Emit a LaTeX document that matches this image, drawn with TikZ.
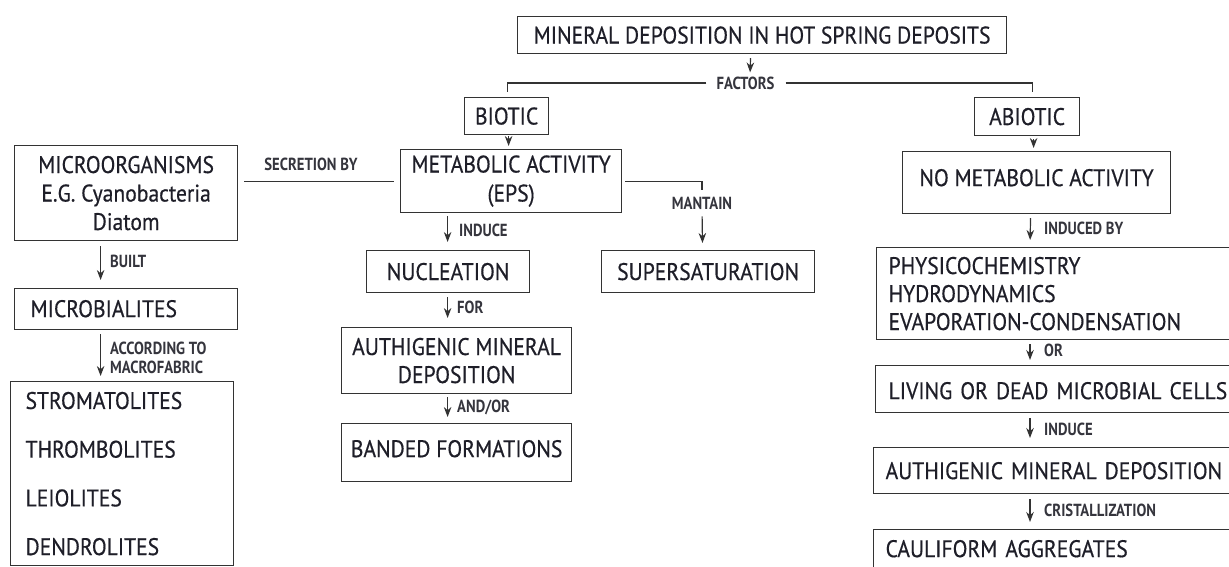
\documentclass[tikz,border=0pt]{standalone}
\usepackage{fontspec}
\setmainfont{PT Sans}
\newfontfamily\boxfont[FakeStretch=0.9,FakeBold=0.5]{PT Sans}
\newfontfamily\lblfont[FakeStretch=0.84]{PT Sans}
\usetikzlibrary{arrows.meta,positioning,calc}
\definecolor{ink}{HTML}{1E1E28}
\definecolor{edge}{HTML}{333333}
\tikzset{box/.style={draw=edge,line width=1.2pt,inner sep=0pt,anchor=north west,
  font=\boxfont\fontsize{24}{28.5}\selectfont,text=ink},
  lbl/.style={font=\lblfont\bfseries\fontsize{17.5}{20}\selectfont,text=ink!90,inner sep=0pt},
  wire/.style={line width=1.2pt,draw=edge},
  arr/.style={-{Stealth[length=10pt,width=7.5pt]},line width=1.2pt,draw=edge}}

\begin{document}
\begin{tikzpicture}[x=1pt,y=-1pt]
\useasboundingbox (0,0) rectangle (1229,566);
\clip (0,0) rectangle (1229,566);
% top of the tree
\node[box,minimum width=489pt,minimum height=37pt] (title) at (517,16) {MINERAL DEPOSITION IN HOT SPRING DEPOSITS};
\node[lbl] (factors) at (745.5,83) {FACTORS};
\node[box,minimum width=84pt,minimum height=37pt] (biotic) at (464,97) {BIOTIC};
\node[box,minimum width=105pt,minimum height=38pt] (abiotic) at (974,97) {ABIOTIC};
\draw[arr,shorten <=4pt,shorten >=4pt] ([xshift=-11.5pt]title.south) -- ([xshift=4.5pt]factors.north);
\draw[wire] ([xshift=-10pt]factors.west) -| ([xshift=1pt,yshift=5pt]biotic.north);
\draw[wire] ([xshift=11pt]factors.east) -| ([xshift=5.5pt,yshift=5pt]abiotic.north);
% biotic branch
\node[box,minimum width=221pt,minimum height=63pt,align=center,font=\boxfont\fontsize{24}{29}\selectfont] (metab) at (400,149) {METABOLIC ACTIVITY\\(EPS)};
\node[box,minimum width=223pt,minimum height=95pt,align=center] (micro) at (14,145) {MICROORGANISMS\\E.G. Cyanobacteria\\Diatom};
\node[box,text width=191pt,inner xsep=16pt,align=left,text height=28.5pt,text depth=12.5pt] (microb) at (14,288) {MICROBIALITES};
\node[box,text width=193pt,inner xsep=15pt,minimum height=184pt,align=left,font=\boxfont\fontsize{24}{48.7}\selectfont] (strom) at (10,381) {STROMATOLITES\\THROMBOLITES\\LEIOLITES\\DENDROLITES};
\node[box,minimum width=163pt,minimum height=42pt] (nucl) at (366,250) {NUCLEATION};
\node[box,minimum width=213pt,minimum height=42pt] (supsat) at (601,250) {SUPERSATURATION};
\node[box,minimum width=230pt,minimum height=66pt,align=center,font=\boxfont\fontsize{24}{28}\selectfont] (authig) at (341,327) {AUTHIGENIC MINERAL\\DEPOSITION};
\node[box,minimum width=230pt,text height=33.5pt,text depth=24.5pt] (banded) at (341,423) {BANDED FORMATIONS};
\node[lbl] (secr) at (311,164) {SECRETION BY};
\node[lbl] (mantain) at (702,203) {MANTAIN};
\node[lbl,anchor=west] (built) at (110,261) {BUILT};
\node[lbl,anchor=west,align=left,font=\lblfont\bfseries\fontsize{17.5}{19}\selectfont] (accord) at (110,357.5) {ACCORDING TO\\MACROFABRIC};
\node[lbl,anchor=west] (induce) at (459,230) {INDUCE};
\node[lbl,anchor=west] (for) at (457,307) {FOR};
\node[lbl,anchor=west] (andor) at (457,407) {AND/OR};
\draw[arr,shorten <=1pt,shorten >=3pt] ([xshift=2pt]biotic.south) -- ([xshift=-2.5pt]metab.north);
\draw[wire,shorten <=6pt,shorten >=6pt] (micro.east |- metab.west) -- (metab.west);
\draw[wire] ([xshift=3pt]metab.east) -| ([yshift=7pt]mantain.north);
\draw[arr,shorten <=7pt,shorten >=7pt] (mantain.south) -- ([xshift=-5.5pt]supsat.north);
\draw[arr,shorten <=3pt,shorten >=8pt] ([xshift=-63.5pt]metab.south) -- ([xshift=-0.5pt]nucl.north);
\draw[arr,shorten <=4pt,shorten >=9pt] ([xshift=-0.5pt]nucl.south) -- ([xshift=-9pt]authig.north);
\draw[arr,shorten <=3pt,shorten >=6pt] ([xshift=-9pt]authig.south) -- ([xshift=-9pt]banded.north);
\draw[arr,shorten <=5pt,shorten >=8pt] ([xshift=-25.5pt]micro.south) -- ([xshift=-25.5pt]microb.north);
\draw[arr,shorten <=4pt,shorten >=5pt] ([xshift=-25.5pt]microb.south) -- ([xshift=-21.5pt]strom.north);
% abiotic branch
\node[box,minimum width=268pt,text height=34.5pt,text depth=27.5pt] (nometab) at (902,151) {NO METABOLIC ACTIVITY};
\node[box,text width=370pt,inner xsep=12pt,minimum height=92pt,align=left,font=\boxfont\fontsize{24}{28}\selectfont] (physico) at (876,247) {PHYSICOCHEMISTRY\\HYDRODYNAMICS\\EVAPORATION-CONDENSATION};
\node[box,text width=369pt,inner xsep=13pt,align=left,text height=33.5pt,text depth=13.5pt] (living) at (875,365) {LIVING OR DEAD MICROBIAL CELLS};
\node[box,text width=373pt,inner xsep=12pt,align=left,text height=31.5pt,text depth=14.5pt] (authigb) at (873,447) {AUTHIGENIC MINERAL DEPOSITION};
\node[box,text width=373pt,inner xsep=12pt,align=left,text height=27.5pt,text depth=32.5pt] (cauli) at (873,529) {CAULIFORM AGGREGATES};
\node[lbl,anchor=west] (indby) at (1044,228) {INDUCED BY};
\node[lbl,anchor=west] (or) at (1044,350) {OR};
\node[lbl,anchor=west] (induceb) at (1044,429) {INDUCE};
\node[lbl,anchor=west] (crist) at (1044,510) {CRISTALLIZATION};
\draw[arr,shorten <=3pt,shorten >=3pt] ([xshift=6.5pt]abiotic.south) -- ([xshift=-3pt]nometab.north);
\draw[arr,shorten <=4pt,shorten >=7pt] ([xshift=-6pt]nometab.south) -- ([xshift=154pt]physico.north west);
\draw[arr,shorten <=4pt,shorten >=5pt] ([xshift=154pt]physico.south west) -- ([xshift=155pt]living.north west);
\draw[arr,shorten <=5pt,shorten >=9pt] ([xshift=155pt]living.south west) -- ([xshift=157pt]authigb.north west);
\draw[arr,shorten <=5pt,shorten >=7pt] ([xshift=157pt]authigb.south west) -- ([xshift=157pt]cauli.north west);
\end{tikzpicture}
\end{document}
